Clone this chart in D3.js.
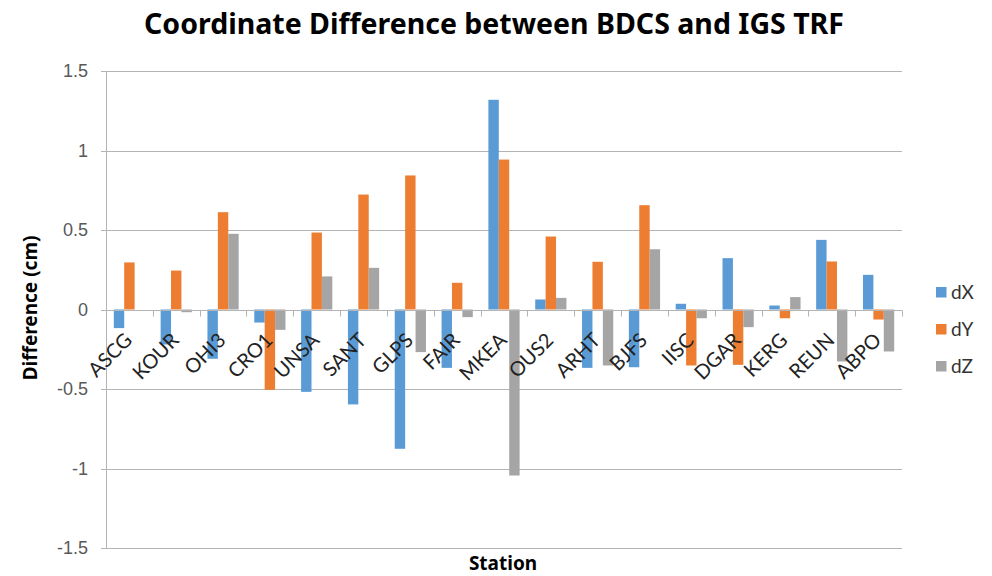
<!DOCTYPE html>
<html>
<head>
<meta charset="utf-8">
<script src="https://cdn.jsdelivr.net/npm/d3@7/dist/d3.min.js"></script>
<style>
  html, body { margin: 0; padding: 0; background: #fff; }
  svg { display: block; }
</style>
</head>
<body>
<svg id="chart" width="992" height="576"></svg>
<script>
// Station names along the x axis
const stations = ["ASCG", "KOUR", "OHI3", "CRO1", "UNSA", "SANT", "GLPS", "FAIR", "MKEA",
                  "OUS2", "ARHT", "BJFS", "IISC", "DGAR", "KERG", "REUN", "ABPO"];

// Coordinate differences per station (cm)
const dX = [-0.117, -0.22, -0.31, -0.082, -0.518, -0.597, -0.876, -0.367, 1.319,
            0.063, -0.367, -0.363, 0.036, 0.323, 0.025, 0.438, 0.218];
const dY = [0.296, 0.245, 0.612, -0.505, 0.484, 0.723, 0.843, 0.168, 0.943,
            0.459, 0.30, 0.656, -0.352, -0.348, -0.055, 0.302, -0.063];
const dZ = [0.0, -0.017, 0.476, -0.128, 0.208, 0.262, -0.268, -0.048, -1.044,
            0.073, -0.352, 0.379, -0.055, -0.111, 0.078, -0.327, -0.264];

const seriesNames = ["dX", "dY", "dZ"];
const seriesColors = ["#5B9BD5", "#ED7D31", "#A5A5A5"];
const yTicks = [-1.5, -1, -0.5, 0, 0.5, 1, 1.5];

const series = [dX, dY, dZ];
const svg = d3.select("#chart");
const m = { left: 106, right: 902, top: 71, bottom: 548 };

const x = d3.scaleBand().domain(stations).range([m.left, m.right]).padding(0);
const sub = d3.scaleBand().domain(seriesNames).range([0, x.bandwidth()])
  .paddingInner(0).paddingOuter(0.75);
const y = d3.scaleLinear().domain([-1.5, 1.5]).range([m.bottom, m.top]);

const gridColor = "#b4b4b4";

// Horizontal gridlines (extend a little left of the axis as tick marks)
svg.append("g").selectAll("line").data(yTicks).join("line")
  .attr("x1", m.left - 5).attr("x2", m.right)
  .attr("y1", d => Math.round(y(d)) + 0.5).attr("y2", d => Math.round(y(d)) + 0.5)
  .attr("stroke", gridColor).attr("stroke-width", 1);

// Vertical value axis line
svg.append("line")
  .attr("x1", m.left + 0.5).attr("x2", m.left + 0.5)
  .attr("y1", y(1.5)).attr("y2", y(-1.5))
  .attr("stroke", gridColor);

// Y tick labels (plain hyphen for negatives)
svg.append("g").selectAll("text").data(yTicks).join("text")
  .attr("x", m.left - 18).attr("y", d => y(d))
  .attr("dy", "0.35em").attr("text-anchor", "end")
  .attr("font-family", "'Liberation Sans Narrow', 'Liberation Sans', Arial, sans-serif")
  .attr("font-size", 18).attr("fill", "#595959")
  .text(d => String(d));

// Bars
const groups = svg.append("g").selectAll("g").data(seriesNames).join("g")
  .attr("fill", (d, i) => seriesColors[i]);
groups.each(function (name, si) {
  d3.select(this).selectAll("rect").data(series[si]).join("rect")
    .attr("x", (v, i) => x(stations[i]) + sub(name))
    .attr("width", sub.bandwidth())
    .attr("y", v => y(Math.max(0, v)))
    .attr("height", v => Math.abs(y(v) - y(0)));
});

// Category axis along zero with tick marks between stations
const y0 = Math.round(y(0)) + 0.5;
svg.append("line")
  .attr("x1", m.left).attr("x2", m.right).attr("y1", y0).attr("y2", y0)
  .attr("stroke", gridColor);
const bounds = stations.map(s => x(s)).concat([m.right]);
svg.append("g").selectAll("line").data(bounds).join("line")
  .attr("x1", d => Math.round(d) + 0.5).attr("x2", d => Math.round(d) + 0.5)
  .attr("y1", y0).attr("y2", y0 + 6)
  .attr("stroke", gridColor);

// Rotated station labels
svg.append("g").selectAll("text").data(stations).join("text")
  .attr("transform", d => `translate(${x(d) + x.bandwidth() / 2 + 4},${y0 + 31}) rotate(-45)`)
  .attr("text-anchor", "end")
  .attr("font-family", "Lato, 'Open Sans', sans-serif")
  .attr("font-size", 20).attr("fill", "#222")
  .text(d => d);

// Title
svg.append("text")
  .attr("x", 494).attr("y", 34).attr("text-anchor", "middle")
  .attr("font-family", "'Noto Sans', sans-serif").attr("font-weight", "bold")
  .attr("font-size", 28.5).attr("fill", "#000")
  .text("Coordinate Difference between BDCS and IGS TRF");

// Axis titles
svg.append("text")
  .attr("transform", `translate(37,${(233 + 383) / 2}) rotate(-90)`)
  .attr("text-anchor", "middle")
  .attr("font-family", "'Noto Sans', sans-serif").attr("font-weight", "bold")
  .attr("font-size", 19).attr("fill", "#000")
  .text("Difference (cm)");

svg.append("text")
  .attr("x", 503).attr("y", 570).attr("text-anchor", "middle")
  .attr("font-family", "'Noto Sans', sans-serif").attr("font-weight", "bold")
  .attr("font-size", 19).attr("fill", "#000")
  .text("Station");

// Legend
const legend = svg.append("g").selectAll("g").data(seriesNames).join("g")
  .attr("transform", (d, i) => `translate(936,${287 + i * 37})`);
legend.append("rect").attr("width", 10.5).attr("height", 10.5)
  .attr("fill", (d, i) => seriesColors[i]);
legend.append("text").attr("x", 15).attr("y", 5).attr("dy", "0.38em")
  .attr("font-family", "Lato, 'Open Sans', sans-serif")
  .attr("font-size", 19).attr("fill", "#333")
  .text(d => d);
</script>
</body>
</html>
